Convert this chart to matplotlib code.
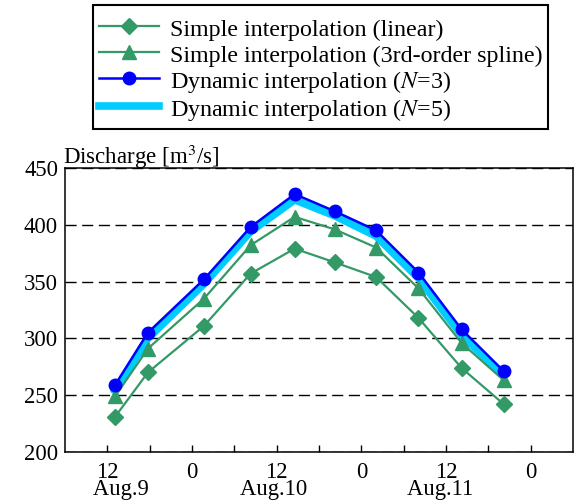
import matplotlib.pyplot as plt

plt.rcParams['font.family'] = ['Liberation Serif', 'DejaVu Serif']
plt.rcParams['mathtext.fontset'] = 'stix'

# hours counted from 0:00 Aug.9
hours = [13.1, 17.75, 25.7, 32.3, 38.55, 44.2, 50.1, 56.1, 62.2, 68.2]
linear = [231, 270, 311, 357, 379, 367, 354, 318, 274, 242]
spline3 = [249, 291, 335, 382, 407, 396, 380, 344, 296, 263]
dyn_n3 = [259, 305, 352, 398, 427, 412, 395, 358, 308, 271]
dyn_n5 = [254, 300, 348, 394, 422, 408, 390, 353, 303, 267]

tick_hours = [12, 18, 24, 30, 36, 42, 48, 54, 60, 66, 72]
tick_labels = ['12\n     Aug.9', '', '0', '', '12\nAug.10 ', '', '0', '',
               '12\nAug.11  ', '', '0']

green = '#339966'
blue = '#0000ff'
cyan = '#00ccff'

fig = plt.figure(figsize=(5.74, 5.01), dpi=100)
ax = fig.add_axes([65 / 574, 1 - 452 / 501, 508 / 574, 284 / 501])

l5, = ax.plot(hours, dyn_n5, color=cyan, lw=5.5, solid_joinstyle='miter',
              label='Dynamic interpolation ($N$=5)', zorder=2)
l1, = ax.plot(hours, linear, color=green, lw=1.6, marker='D', ms=8,
              label='Simple interpolation (linear)', zorder=3)
l2, = ax.plot(hours, spline3, color=green, lw=1.6, marker='^', ms=10,
              label='Simple interpolation (3rd-order spline)', zorder=3)
l3, = ax.plot(hours, dyn_n3, color=blue, lw=1.8, marker='o', ms=9,
              label='Dynamic interpolation ($N$=3)', zorder=4)

ax.set_xlim(6, 78)
ax.set_ylim(200, 450)
ax.set_yticks([200, 250, 300, 350, 400, 450])
ax.set_xticks(tick_hours)
ax.set_xticklabels(tick_labels, linespacing=0.75)
ax.tick_params(axis='x', direction='in', length=5, width=1, labelsize=16.3, pad=7)
ax.tick_params(axis='y', length=0, labelsize=16.3, pad=5)
ax.yaxis.grid(True, color='black', lw=1, linestyle=(0, (8, 4)))
for s in ax.spines.values():
    s.set_linewidth(1.1)

fig.text(63 / 574, 1 - 143 / 501, 'Discharge [m$^3$/s]', ha='left', va='top', fontsize=16.5)

# blank tiny title only pushes the entries a little lower inside the frame
leg = fig.legend(handles=[l1, l2, l3, l5], loc='upper left',
                 bbox_to_anchor=(93 / 574, 1 - 5 / 501), borderaxespad=0,
                 fontsize=17.3, fancybox=False, framealpha=1, edgecolor='black',
                 handlelength=2.5, handleheight=1.1, handletextpad=0.45,
                 labelspacing=0.05, borderpad=0.25, title=' ', title_fontsize=3.5)
leg.get_frame().set_linewidth(1.5)

fig.savefig('out.png', dpi=100)
